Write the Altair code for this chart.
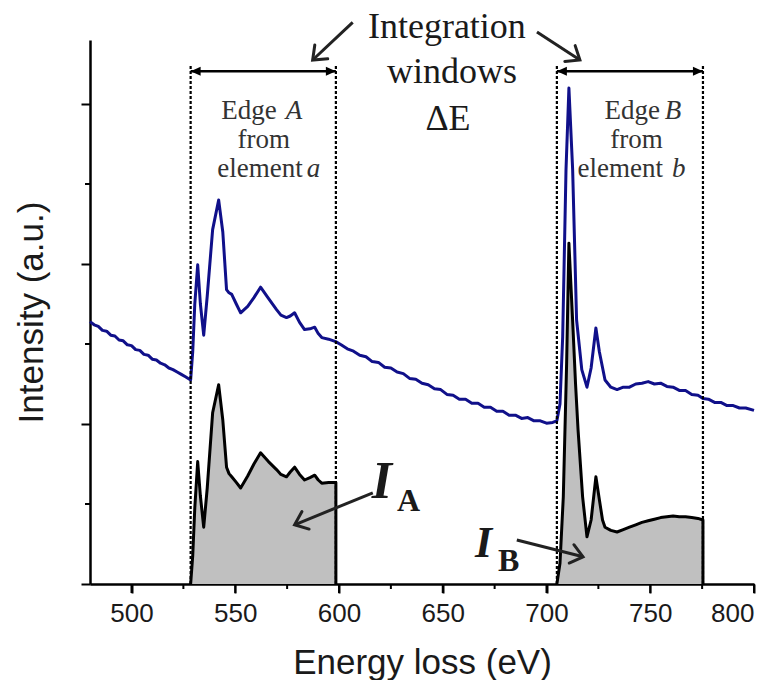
import math
import altair as alt
import pandas as pd

# ---------------- spectrum data ----------------
# raw EELS spectrum (edges on top of the decaying background)
raw_e = [480, 482, 484, 486, 488, 490, 492, 494, 496, 498, 500, 502, 504, 506, 508,
         510, 512, 514, 516, 518, 520, 522, 524, 526, 528.5,
         529.5, 530.5, 531.9, 533.2, 534.8, 536.5, 539.1, 542.0, 544.0, 545.8, 547.0,
         548.3, 550.5, 552.6, 556, 559, 562.2, 566, 569.9, 572, 574.7, 576.5, 578.6,
         581, 583.4, 586, 588.3, 590, 591.7, 595, 598.4,
         601, 604, 607, 610, 613, 616, 619, 622, 625, 628, 631, 634, 637, 640, 643,
         646, 649, 652, 655, 658, 661, 664, 667, 670, 673, 676, 679, 682, 685, 688,
         691, 694, 697, 700, 703, 705,
         706.5, 707.8, 709.4, 710.8, 712.6, 714.5, 717, 719.5, 721.5, 723.8, 725.5,
         728.2, 731, 734, 737, 740, 743, 746, 749, 752, 755, 758, 761, 764, 767, 770,
         773, 775.4, 778, 781, 784, 787, 790, 793, 796, 800]
raw_i = [3.28, 3.24, 3.22, 3.17, 3.16, 3.11, 3.10, 3.05, 3.04, 2.99, 2.98, 2.93, 2.92,
         2.87, 2.86, 2.81, 2.80, 2.76, 2.74, 2.70, 2.68, 2.65, 2.62, 2.59, 2.55,
         2.90, 3.50, 3.99, 3.50, 3.11, 3.60, 4.43, 4.80, 4.40, 3.68, 3.64,
         3.62, 3.50, 3.39, 3.47, 3.58, 3.71, 3.57, 3.43, 3.36, 3.33, 3.35, 3.39,
         3.27, 3.18, 3.19, 3.21, 3.13, 3.08, 3.06, 3.03,
         2.99, 2.94, 2.91, 2.86, 2.84, 2.78, 2.77, 2.71, 2.70, 2.65, 2.63, 2.57, 2.56,
         2.51, 2.49, 2.44, 2.43, 2.37, 2.36, 2.31, 2.31, 2.26, 2.26, 2.21, 2.21, 2.16,
         2.16, 2.11, 2.11, 2.07, 2.08, 2.04, 2.04, 2.01, 2.02, 2.04,
         2.25, 3.09, 5.18, 6.20, 5.18, 3.30, 2.68, 2.46, 2.70, 3.20, 2.90,
         2.55, 2.46, 2.43, 2.46, 2.46, 2.50, 2.51, 2.53, 2.50, 2.51, 2.47, 2.46, 2.42,
         2.42, 2.37, 2.36, 2.32, 2.31, 2.27, 2.27, 2.23, 2.23, 2.20, 2.20, 2.17]

# background-subtracted signal inside the two integration windows
edge_a_e = [528.5, 529.5, 530.5, 531.9, 533.2, 534.8, 536.5, 539.1, 542.0, 544.0,
            545.8, 547.0, 548.3, 550.5, 552.6, 556, 559, 562.2, 566, 569.9, 572,
            574.7, 576.5, 578.6, 581, 583.4, 586, 588.3, 590, 591.7, 595, 598.5]
edge_a_i = [0.0, 0.35, 0.95, 1.53, 1.10, 0.71, 1.20, 2.14, 2.49, 2.05,
            1.46, 1.38, 1.34, 1.27, 1.20, 1.35, 1.50, 1.64, 1.53, 1.43, 1.37,
            1.34, 1.40, 1.46, 1.37, 1.30, 1.33, 1.36, 1.30, 1.26, 1.27, 1.27]

edge_b_e = [705.0, 706.5, 708.1, 709.7, 710.8, 712.8, 714.0, 715.2, 717.4, 719.5,
            721.5, 723.8, 725.5, 727, 728.2, 731, 734, 737, 740, 743, 746, 749, 752,
            755, 758, 761, 764, 767, 770, 773, 775.4]
edge_b_i = [0.0, 0.26, 1.09, 2.76, 4.26, 3.18, 2.50, 1.93, 1.09, 0.59,
            0.80, 1.34, 1.05, 0.80, 0.71, 0.67, 0.65, 0.68, 0.71, 0.74, 0.77, 0.79,
            0.81, 0.83, 0.84, 0.85, 0.84, 0.84, 0.83, 0.82, 0.80]

# integration window limits (eV)
window_edges = [528.5, 598.5, 705.0, 775.4]
window_top = 6.49
span_y = 6.41

# axis ticks
major_x = [500, 550, 600, 650, 700, 750, 800]
minor_x = [525, 575, 625, 675, 725, 775]
major_y = [0, 2, 4, 6]
minor_y = [1, 3, 5]

# ---------------- layout constants ----------------
W, H = 664, 544
X_DOM = [480, 800]
Y_DOM = [0, 6.8]
SERIF = "Liberation Serif"
SANS = "Liberation Sans"
INK = "#1a1a1a"
NAVY = "#10108a"
FILL = "#c0c0c0"

xs = alt.Scale(domain=X_DOM, nice=False, zero=False)
ys = alt.Scale(domain=Y_DOM, nice=False, zero=False)
px_e = W / (X_DOM[1] - X_DOM[0])
px_v = H / (Y_DOM[1] - Y_DOM[0])

raw = pd.DataFrame({"e": raw_e, "v": raw_i, "i": range(len(raw_e))})


def closed_outline(es, vs):
    # outline drops back to the baseline at the window's upper limit
    return pd.DataFrame({"e": es + [es[-1]], "v": vs + [0.0], "i": range(len(es) + 1)})


x_axis = alt.Axis(
    values=major_x, tickSize=9,
    title="Energy loss (eV)", titleFont=SANS, titleFontSize=35, titleFontWeight="normal",
    titleColor=INK, titleBaseline="alphabetic", titleY=89,
    labelFont=SANS, labelFontSize=26, labelColor=INK, labelPadding=7,
    domainColor="black", domainWidth=2.5, tickColor="black", tickWidth=2, grid=False,
)
y_axis = alt.Axis(
    values=major_y, labels=False, tickSize=9,
    title="Intensity (a.u.)", titleFont=SANS, titleFontSize=35, titleFontWeight="normal",
    titleColor=INK, titleBaseline="alphabetic", titleAngle=270, titleAlign="center",
    titleX=-48, titleY=272,
    domainColor="black", domainWidth=2.5, tickColor="black", tickWidth=2, grid=False,
)

# raw spectrum
raw_line = alt.Chart(raw).mark_line(color=NAVY, strokeWidth=3, strokeJoin="round").encode(
    x=alt.X("e:Q", scale=xs, axis=x_axis),
    y=alt.Y("v:Q", scale=ys, axis=y_axis),
    order="i:Q",
)

# x ticks drawn below the axis line (major 9 px, minor 5 px) and minor y ticks
tick_x = pd.DataFrame({
    "e": major_x + minor_x,
    "top": [0.0] * (len(major_x) + len(minor_x)),
    "end": [-9 / px_v] * len(major_x) + [-5 / px_v] * len(minor_x),
})
x_ticks = alt.Chart(tick_x).mark_rule(color="black", strokeWidth=2).encode(
    x=alt.X("e:Q", scale=xs), y=alt.Y("top:Q", scale=ys), y2="end:Q",
)
tick_y = pd.DataFrame({"v": minor_y, "a": [X_DOM[0]] * len(minor_y),
                       "b": [X_DOM[0] - 5 / px_e] * len(minor_y)})
minor_yt = alt.Chart(tick_y).mark_rule(color="black", strokeWidth=2).encode(
    y=alt.Y("v:Q", scale=ys), x=alt.X("a:Q", scale=xs), x2="b:Q",
)


def edge_layers(es, vs):
    """Grey integrated area of one window plus its black outline."""
    fill = alt.Chart(pd.DataFrame({"e": es, "v": vs})).mark_area(
        color=FILL, opacity=1
    ).encode(x=alt.X("e:Q", scale=xs), y=alt.Y("v:Q", scale=ys, stack=None))
    line = alt.Chart(closed_outline(es, vs)).mark_line(
        color="black", strokeWidth=3, strokeJoin="round"
    ).encode(x=alt.X("e:Q", scale=xs), y=alt.Y("v:Q", scale=ys), order="i:Q")
    return fill, line


fill_a, line_a = edge_layers(edge_a_e, edge_a_i)
fill_b, line_b = edge_layers(edge_b_e, edge_b_i)

# dashed window boundaries
bounds = alt.Chart(pd.DataFrame({"e": window_edges})).mark_rule(
    color="black", strokeWidth=2.2, strokeDash=[3, 2]
).encode(
    x=alt.X("e:Q", scale=xs), y=alt.datum(0, scale=ys), y2=alt.datum(window_top),
)

# double-headed span arrows above each window
spans = pd.DataFrame({"a": [window_edges[0], window_edges[2]],
                      "b": [window_edges[1], window_edges[3]], "y": [span_y, span_y]})
span_rule = alt.Chart(spans).mark_rule(color="black", strokeWidth=2.5).encode(
    x=alt.X("a:Q", scale=xs), x2="b:Q", y=alt.Y("y:Q", scale=ys),
)
span_heads = pd.DataFrame({
    "e": [window_edges[0], window_edges[1], window_edges[2], window_edges[3]],
    "y": [span_y] * 4, "ang": [180, 0, 180, 0],
})
heads = alt.Chart(span_heads).mark_point(
    shape="M0,0L-1,-0.45L-1,0.45Z", filled=True, color="black", size=400, opacity=1,
).encode(x=alt.X("e:Q", scale=xs), y=alt.Y("y:Q", scale=ys), angle=alt.Angle("ang:Q", scale=None))

# pointer arrows (tail -> tip) in data coordinates
arr_x0 = [606.6, 695.4, 616.3, 685.7]
arr_y0 = [7.02, 6.90, 1.14, 0.55]
arr_x1 = [587.3, 716.1, 578.6, 717.6]
arr_y1 = [6.55, 6.55, 0.74, 0.34]
arr_ang = [math.degrees(math.atan2(-(y1 - y0) * px_v, (x1 - x0) * px_e)) % 360
           for x0, y0, x1, y1 in zip(arr_x0, arr_y0, arr_x1, arr_y1)]
arrows = pd.DataFrame({"x0": arr_x0, "y0": arr_y0, "x1": arr_x1, "y1": arr_y1, "ang": arr_ang})
shafts = alt.Chart(arrows).mark_rule(color="#222222", strokeWidth=3).encode(
    x=alt.X("x0:Q", scale=xs), y=alt.Y("y0:Q", scale=ys), x2="x1:Q", y2="y1:Q",
)
tips = alt.Chart(arrows).mark_point(
    shape="M-1,-0.8L0,0L-1,0.8", filled=False, color="#222222", strokeWidth=3,
    size=560, opacity=1, strokeCap="round", strokeJoin="miter",
).encode(x=alt.X("x1:Q", scale=xs), y=alt.Y("y1:Q", scale=ys), angle=alt.Angle("ang:Q", scale=None))


def text_layer(labels, xs_, ys_, align, size, style="normal", weight="normal", color=INK, font=SERIF):
    df = pd.DataFrame({"t": labels, "x": xs_, "y": ys_})
    return alt.Chart(df).mark_text(
        align=align, baseline="alphabetic", font=font, fontSize=size,
        fontStyle=style, fontWeight=weight, color=color,
    ).encode(x=alt.X("x:Q", scale=xs), y=alt.Y("y:Q", scale=ys), text="t:N")


title_txt = text_layer(["Integration", "windows", "\u0394E"],
                       [652.0, 654.4, 652.5], [6.83, 6.26, 5.68], "center", 36)
edge_plain_r = text_layer(["Edge", "element", "Edge", "element"],
                          [570.0, 582.5, 754.7, 756.1], [5.81, 5.09, 5.81, 5.09],
                          "right", 27, color="#333333")
edge_from = text_layer(["from", "from"], [563.7, 743.4], [5.45, 5.45], "center", 27, color="#333333")
edge_ital = text_layer(["A", "a", "B", "b"], [574.3, 584.4, 757.0, 760.5],
                       [5.81, 5.09, 5.81, 5.09], "left", 27, style="italic", color="#333333")
big_i = text_layer(["I"], [615.8], [1.075], "left", 52, style="italic", weight="bold")
big_i_b = text_layer(["I"], [665.5], [0.34], "left", 44, style="italic", weight="bold")
subs = text_layer(["A", "B"], [627.9, 676.6], [0.91, 0.16], "left", 32, weight="bold")

chart = alt.layer(
    raw_line, fill_a, fill_b, bounds, line_a, line_b, span_rule, heads,
    shafts, tips, title_txt, edge_plain_r, edge_from, edge_ital, big_i, big_i_b, subs,
    x_ticks, minor_yt,
).properties(
    width=W, height=H,
    autosize=alt.AutoSizeParams(type="none"),
    padding={"left": 90, "top": 40, "right": 23, "bottom": 96},
    background="white",
).configure_view(stroke=None)

chart.save("out.html", embed_options={"renderer": "svg", "actions": False})
